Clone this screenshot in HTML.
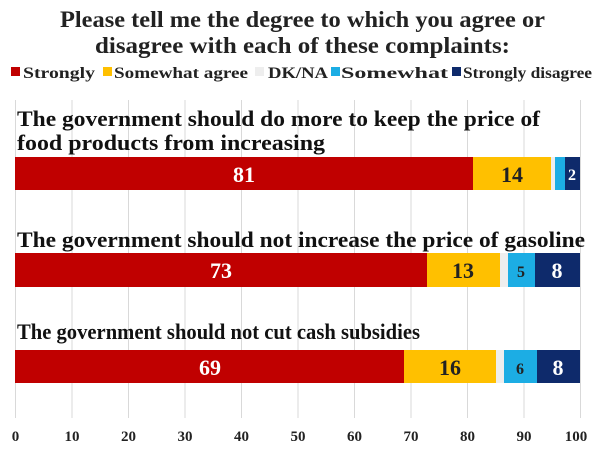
<!DOCTYPE html>
<html><head><meta charset="utf-8"><style>
body{margin:0;width:600px;height:448px;background:#fff;overflow:hidden;font-family:"Liberation Serif",serif;font-weight:bold;}
svg text{font-family:"Liberation Serif",serif;font-weight:bold;}
</style></head><body>
<svg width="600" height="448" xmlns="http://www.w3.org/2000/svg">
<g stroke="#d9d9d9" stroke-width="1">
<line x1="15.5" y1="100" x2="15.5" y2="418"/><line x1="72" y1="100" x2="72" y2="418"/><line x1="128.5" y1="100" x2="128.5" y2="418"/><line x1="185" y1="100" x2="185" y2="418"/><line x1="241.5" y1="100" x2="241.5" y2="418"/><line x1="298" y1="100" x2="298" y2="418"/><line x1="354.5" y1="100" x2="354.5" y2="418"/><line x1="411" y1="100" x2="411" y2="418"/><line x1="467.5" y1="100" x2="467.5" y2="418"/><line x1="524" y1="100" x2="524" y2="418"/><line x1="580.5" y1="100" x2="580.5" y2="418"/>
</g>
<text x="60" y="27" font-size="23" fill="#222" textLength="485" lengthAdjust="spacingAndGlyphs">Please tell me the degree to which you agree or</text>
<text x="95" y="53" font-size="23" fill="#222" textLength="415" lengthAdjust="spacingAndGlyphs">disagree with each of these complaints:</text>
<g font-size="16" fill="#222">
<rect x="11" y="67" width="9" height="9" fill="#c00000"/><text x="23" y="78" textLength="72" lengthAdjust="spacingAndGlyphs">Strongly</text>
<rect x="103" y="67" width="9" height="9" fill="#ffc000"/><text x="114" y="78" textLength="134" lengthAdjust="spacingAndGlyphs">Somewhat agree</text>
<rect x="255" y="67" width="9" height="9" fill="#eeeeee"/><text x="268" y="78" textLength="60" lengthAdjust="spacingAndGlyphs">DK/NA</text>
<rect x="331" y="67" width="9" height="9" fill="#1cade4"/><text x="341" y="78" textLength="107" lengthAdjust="spacingAndGlyphs">Somewhat</text>
<rect x="452" y="67" width="9" height="9" fill="#0e2a6b"/><text x="463" y="78" textLength="129" lengthAdjust="spacingAndGlyphs">Strongly disagree</text>
</g>
<g font-size="22" fill="#111">
<text x="17" y="126" textLength="523" lengthAdjust="spacingAndGlyphs">The government should do more to keep the price of</text>
<text x="17" y="150" textLength="308" lengthAdjust="spacingAndGlyphs">food products from increasing</text>
<text x="17" y="247" textLength="568" lengthAdjust="spacingAndGlyphs">The government should not increase the price of gasoline</text>
<text x="17" y="339" textLength="403" lengthAdjust="spacingAndGlyphs">The government should not cut cash subsidies</text>
</g>
<g>
<rect x="15" y="157" width="458" height="33" fill="#c00000"/>
<rect x="473" y="157" width="78" height="33" fill="#ffc000"/>
<rect x="551" y="157" width="4" height="33" fill="#eeeeee"/>
<rect x="555" y="157" width="10" height="33" fill="#1cade4"/>
<rect x="565" y="157" width="15" height="33" fill="#0e2a6b"/>
<rect x="15" y="253" width="412" height="34" fill="#c00000"/>
<rect x="427" y="253" width="73" height="34" fill="#ffc000"/>
<rect x="500" y="253" width="8" height="34" fill="#eeeeee"/>
<rect x="508" y="253" width="27" height="34" fill="#1cade4"/>
<rect x="535" y="253" width="45" height="34" fill="#0e2a6b"/>
<rect x="15" y="350" width="389" height="33" fill="#c00000"/>
<rect x="404" y="350" width="92" height="33" fill="#ffc000"/>
<rect x="496" y="350" width="8" height="33" fill="#eeeeee"/>
<rect x="504" y="350" width="33" height="33" fill="#1cade4"/>
<rect x="537" y="350" width="43" height="33" fill="#0e2a6b"/>
</g>
<g font-size="22" text-anchor="middle">
<text x="244" y="182" fill="#fff">81</text>
<text x="512" y="182" fill="#222">14</text>
<text x="572" y="180" fill="#fff" font-size="16">2</text>
<text x="221" y="278" fill="#fff">73</text>
<text x="463" y="278" fill="#222">13</text>
<text x="521" y="277" fill="#222" font-size="16">5</text>
<text x="557" y="278" fill="#fff">8</text>
<text x="210" y="375" fill="#fff">69</text>
<text x="450" y="375" fill="#222">16</text>
<text x="520" y="374" fill="#222" font-size="16">6</text>
<text x="558" y="375" fill="#fff">8</text>
</g>
<g font-size="15" fill="#222" text-anchor="middle">
<text x="15.5" y="441">0</text><text x="72" y="441">10</text><text x="128.5" y="441">20</text><text x="185" y="441">30</text><text x="241.5" y="441">40</text><text x="298" y="441">50</text><text x="354.5" y="441">60</text><text x="411" y="441">70</text><text x="467.5" y="441">80</text><text x="524" y="441">90</text><text x="576" y="441">100</text>
</g>
</svg>
</body></html>
